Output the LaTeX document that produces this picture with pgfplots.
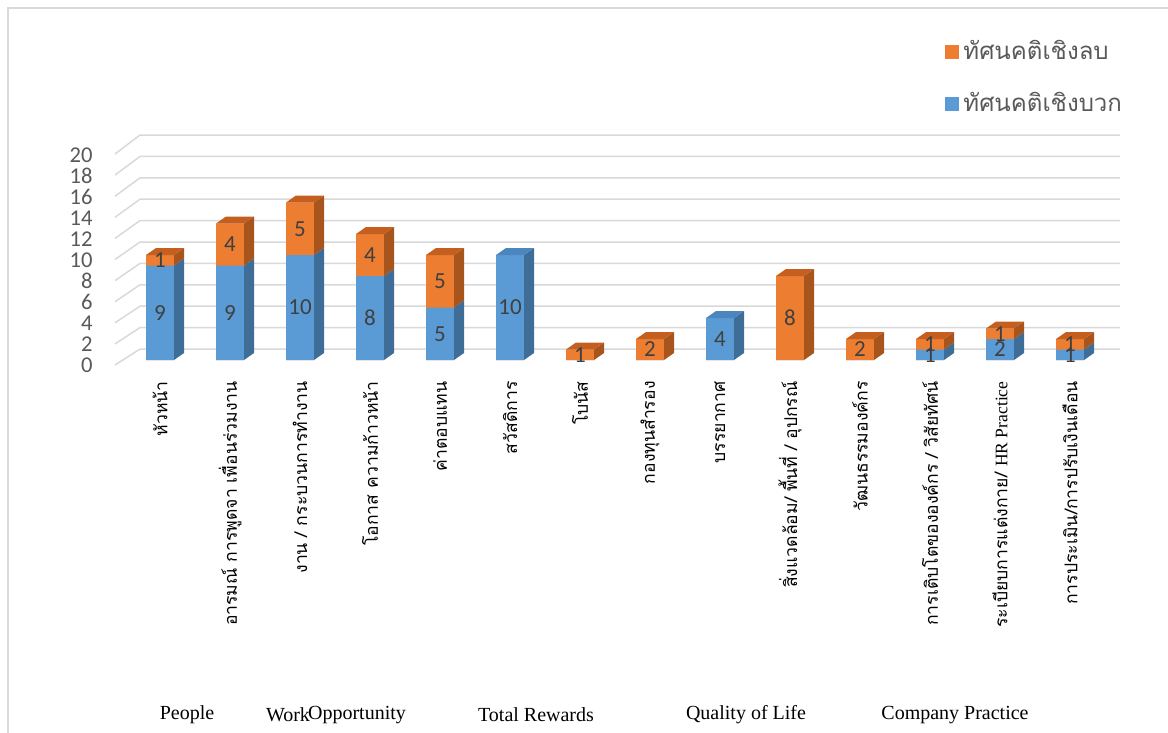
\documentclass[border=0pt]{standalone}
\usepackage{fontspec}
\setmainfont{Liberation Serif}
\newfontfamily\thaifont[Script=Thai]{Loma}
\newfontfamily\numfont{Carlito}
\newfontfamily\latinfont{Liberation Serif}
\usepackage{pgfplots}
\usepackage{pgfplotstable}
\pgfplotsset{compat=1.18}

\definecolor{bluef}{HTML}{5B9BD5}
\definecolor{blueside}{HTML}{3E6D98}
\definecolor{bluetop}{HTML}{4C86BE}
\definecolor{orangef}{HTML}{ED7D31}
\definecolor{orangeside}{HTML}{A8541D}
\definecolor{orangetop}{HTML}{C45F1F}
\definecolor{gridc}{HTML}{D9D9D9}
\definecolor{tickc}{HTML}{595959}
\definecolor{labc}{HTML}{404040}

\newcommand\barfont{\numfont\fontsize{11.5}{13}\selectfont}
\newcommand\tickfont{\numfont\fontsize{11.3}{13}\selectfont}
\newcommand\catfont{\thaifont\fontsize{8.8}{10}\selectfont}
\newcommand\legfont{\thaifont\fontsize{12}{14}\selectfont}
\newcommand\grpfont{\latinfont\fontsize{10}{12}\selectfont}

\pgfplotstableread{
x pos neg
0 9 1
1 9 4
2 10 5
3 8 4
4 5 5
5 10 0
6 0 1
7 0 2
8 4 0
9 0 8
10 0 2
11 1 1
12 2 1
13 1 1
}\datatable

\begin{document}
\begin{tikzpicture}
\path[use as bounding box] (0,0) rectangle (584pt,-366.5pt);
\draw[gridc, line width=0.75pt] (4pt,-4pt) rectangle (620pt,-400pt);
\begin{axis}[
  at={(57.5pt,-180pt)}, anchor=south west,
  scale only axis, width=502.5pt, height=105pt,
  xmin=-0.643, xmax=13.714, ymin=0, ymax=20,
  clip=false,
  axis line style={draw=none},
  major tick length=0pt,
  ytick={0,2,...,20},
  /pgf/number format/assume math mode=true,
  yticklabel style={font=\tickfont, text=tickc, anchor=east, inner sep=0pt, xshift=-11pt, yshift=-2.5pt},
  xtick={0,...,13},
  xticklabels={
    หัวหน้า,
    อารมณ์ การพูดจา เพื่อนร่วมงาน,
    งาน / กระบวนการทำงาน,
    โอกาส ความก้าวหน้า,
    ค่าตอบแทน,
    สวัสดิการ,
    โบนัส,
    กองทุนสำรอง,
    บรรยากาศ,
    สิ่งแวดล้อม/ พื้นที่ / อุปกรณ์,
    วัฒนธรรมองค์กร,
    การเติบโตขององค์กร / วิสัยทัศน์,
    {ระเบียบการแต่งกาย/ {\latinfont HR Practice}},
    การประเมิน/การปรับเงินเดือน
  },
  xticklabel style={font=\catfont, text=black, rotate=90, anchor=east, inner sep=0pt, xshift=-1.5pt},
  xticklabel shift=9pt,
  legend style={at={(0.8259,1.543)}, anchor=north west, draw=none, fill=none,
    inner sep=0pt, row sep=11pt, font=\legfont, text=tickc,
    nodes={inner sep=2pt}},
  legend cell align=left,
]
% 3D grid lines (floor edge + back wall)
\pgfplotsinvokeforeach{0,2,...,20}{
  \pgfmathsetmacro\fy{(-5+10.55*#1)/10.5}
  \pgfmathsetmacro\by{(11+10.7*#1)/10.5}
  \edef\mycmd{\noexpand\addplot[forget plot, gridc, line width=0.75pt] coordinates {(-0.643,\fy) (-0.286,\by) (13.714,\by)};}
  \mycmd
}
% front faces
\addplot[ybar, bar width=0.4, bar shift=0pt, fill=orangef, draw=none,
  legend image code/.code={\fill[orangef] (0pt,-3.5pt) rectangle (7pt,3.5pt);}]
  table[x=x, y expr=\thisrow{pos}+\thisrow{neg}] {\datatable};
\addlegendentry{ทัศนคติเชิงลบ}
\addplot[ybar, bar width=0.4, bar shift=0pt, fill=bluef, draw=none,
  legend image code/.code={\fill[bluef] (0pt,-3.5pt) rectangle (7pt,3.5pt);}]
  table[x=x, y=pos] {\datatable};
\addlegendentry{ทัศนคติเชิงบวก}
% side and top faces, value labels
\pgfplotsinvokeforeach{0,...,13}{
  \pgfplotstablegetelem{#1}{pos}\of\datatable
  \pgfmathsetmacro\vP{\pgfplotsretval}
  \pgfmathtruncatemacro\vPl{\pgfplotsretval}
  \pgfplotstablegetelem{#1}{neg}\of\datatable
  \pgfmathsetmacro\vN{\pgfplotsretval}
  \pgfmathtruncatemacro\vNl{\pgfplotsretval}
  \pgfmathsetmacro\vT{\vP+\vN}
  \pgfmathsetmacro\vPd{\vP+0.667}
  \pgfmathsetmacro\vTd{\vT+0.667}
  \pgfmathsetmacro\xl{#1-0.2}
  \pgfmathsetmacro\xr{#1+0.2}
  \pgfmathsetmacro\xrb{#1+0.343}
  \pgfmathsetmacro\xlb{#1-0.057}
  \pgfmathsetmacro\vPm{\vP/2}
  \pgfmathsetmacro\vNm{\vP+\vN/2}
  \ifnum\vPl>0
    \edef\mycmd{\noexpand\addplot[forget plot, draw=none, fill=blueside] coordinates {(\xr,0) (\xrb,0.667) (\xrb,\vPd) (\xr,\vP)};
      \noexpand\node[font=\noexpand\barfont, text=labc, inner sep=0pt] at (axis cs:#1,\vPm) {\vPl};}
    \mycmd
  \fi
  \ifnum\vNl>0
    \edef\mycmd{\noexpand\addplot[forget plot, draw=none, fill=orangeside] coordinates {(\xr,\vP) (\xrb,\vPd) (\xrb,\vTd) (\xr,\vT)};
      \noexpand\addplot[forget plot, draw=none, fill=orangetop] coordinates {(\xl,\vT) (\xr,\vT) (\xrb,\vTd) (\xlb,\vTd)};
      \noexpand\node[font=\noexpand\barfont, text=labc, inner sep=0pt] at (axis cs:#1,\vNm) {\vNl};}
    \mycmd
  \else
    \edef\mycmd{\noexpand\addplot[forget plot, draw=none, fill=bluetop] coordinates {(\xl,\vT) (\xr,\vT) (\xrb,\vTd) (\xlb,\vTd)};}
    \mycmd
  \fi
}
\end{axis}
\node[font=\grpfont] at (93.5pt,-357.5pt) {People};
\node[font=\grpfont] at (144pt,-357.5pt) {Work};
\node[font=\grpfont] at (178.5pt,-357.5pt) {Opportunity};
\node[font=\grpfont] at (268pt,-357.5pt) {Total Rewards};
\node[font=\grpfont] at (373pt,-357.5pt) {Quality of Life};
\node[font=\grpfont] at (477.5pt,-357.5pt) {Company Practice};
\end{tikzpicture}
\end{document}
